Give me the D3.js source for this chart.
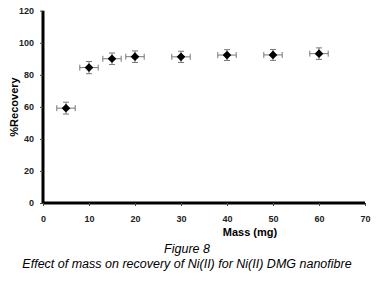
<!DOCTYPE html>
<html><head><meta charset="utf-8">
<script src="https://cdn.jsdelivr.net/npm/d3@7"></script>
<style>body{margin:0;background:#fff}svg{display:block}</style>
</head><body><svg id="c" width="381" height="287"></svg>
<script>
const mass = [5, 10, 15, 20, 30, 40, 50, 60];
const recovery = [59.2, 84.5, 90, 91.3, 91.2, 92.3, 92.4, 93.2];
const yErr = [3.7, 3.8, 3.6, 3.6, 3.5, 3.4, 3.4, 3.6];
const xErr = [2, 2, 2, 2, 2, 2, 2, 2];
const xTicks = [0, 10, 20, 30, 40, 50, 60, 70];
const yTicks = [0, 20, 40, 60, 80, 100, 120];

const svg = d3.select('#c');
const x = d3.scaleLinear().domain([0, 70]).range([43, 365]);
const y = d3.scaleLinear().domain([0, 120]).range([203, 10.7]);
const font = 'Arial, "Liberation Sans", sans-serif';

const xa = svg.append('g').attr('transform', 'translate(0,203)')
  .call(d3.axisBottom(x).tickValues(xTicks).tickSize(3).tickPadding(10));
const ya = svg.append('g').attr('transform', 'translate(43,0)')
  .call(d3.axisLeft(y).tickValues(yTicks).tickSize(3).tickPadding(6));
[xa, ya].forEach(a => {
  a.select('.domain').attr('stroke', '#000').attr('stroke-width', 3);
  a.selectAll('.tick line').attr('stroke', '#444');
  a.selectAll('text').attr('font-family', font).attr('font-size', 9).attr('font-weight', 'bold').attr('fill', '#222');
});
xa.select('.domain').attr('d', `M${x(0)},0H${x(70)}`);
ya.select('.domain').attr('d', `M0,${y(120)}V${y(0)}`);

const pts = mass.map((m, i) => ({m, r: recovery[i], ey: yErr[i], ex: xErr[i]}));
const g = svg.append('g').attr('stroke', '#777').attr('stroke-width', 1);
pts.forEach(p => {
  const cx = x(p.m), cy = y(p.r);
  g.append('line').attr('x1', cx).attr('x2', cx).attr('y1', y(p.r - p.ey)).attr('y2', y(p.r + p.ey));
  g.append('line').attr('x1', cx - 3).attr('x2', cx + 3).attr('y1', y(p.r - p.ey)).attr('y2', y(p.r - p.ey));
  g.append('line').attr('x1', cx - 3).attr('x2', cx + 3).attr('y1', y(p.r + p.ey)).attr('y2', y(p.r + p.ey));
  g.append('line').attr('x1', x(p.m - p.ex)).attr('x2', x(p.m + p.ex)).attr('y1', cy).attr('y2', cy);
  g.append('line').attr('x1', x(p.m - p.ex)).attr('x2', x(p.m - p.ex)).attr('y1', cy - 3).attr('y2', cy + 3);
  g.append('line').attr('x1', x(p.m + p.ex)).attr('x2', x(p.m + p.ex)).attr('y1', cy - 3).attr('y2', cy + 3);
});
svg.append('g').selectAll('path').data(pts).join('path')
  .attr('d', d3.symbol(d3.symbolDiamond2 || d3.symbolDiamond, 48))
  .attr('transform', d => `translate(${x(d.m)},${y(d.r)})`)
  .attr('fill', '#000');

svg.append('text').attr('x', 250).attr('y', 236).attr('text-anchor', 'middle')
  .attr('font-family', font).attr('font-size', 11).attr('font-weight', 'bold').text('Mass (mg)');
svg.append('text').attr('transform', 'translate(18,107) rotate(-90)').attr('text-anchor', 'middle')
  .attr('font-family', font).attr('font-size', 11).attr('font-weight', 'bold').text('%Recovery');
svg.append('text').attr('x', 187).attr('y', 252.5).attr('text-anchor', 'middle')
  .attr('font-family', font).attr('font-size', 12.5).attr('font-style', 'italic').text('Figure 8');
svg.append('text').attr('x', 187).attr('y', 267.5).attr('text-anchor', 'middle')
  .attr('font-family', font).attr('font-size', 12.5).attr('font-style', 'italic').text('Effect of mass on recovery of Ni(II) for Ni(II) DMG nanofibre');
</script></body></html>
